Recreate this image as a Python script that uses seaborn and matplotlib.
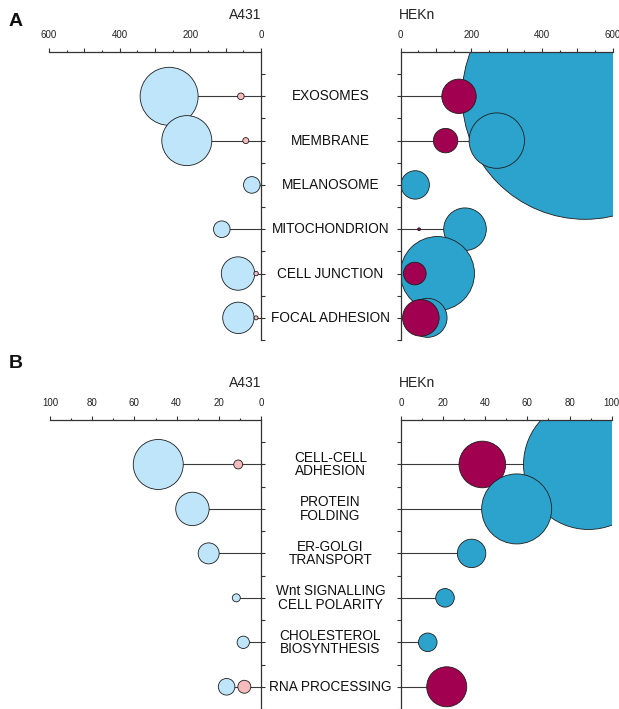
import numpy as np
import pandas as pd
import matplotlib
matplotlib.use("Agg")
import matplotlib.pyplot as plt
import matplotlib.transforms as mtransforms
from matplotlib.ticker import MultipleLocator, FuncFormatter
import seaborn as sns

nan = np.nan

# ---- Panel A: cellular components ----
terms_a = ["EXOSOMES", "MEMBRANE", "MELANOSOME", "MITOCHONDRION",
           "CELL JUNCTION", "FOCAL ADHESION"]
a431_s1_val_a = [260, 210, 26, 111, 65, 64]
a431_s1_n_a = [841, 625, 69, 69, 279, 246]
a431_s2_val_a = [57, 43, nan, nan, 14, 14]
a431_s2_n_a = [11, 9, nan, nan, 5, 4]
hekn_s1_val_a = [522, 272, 41, 182, 104, 76]
hekn_s1_n_a = [15129, 767, 202, 454, 1369, 380]
hekn_s2_val_a = [165, 127, nan, 52, 40, 57]
hekn_s2_n_a = [296, 149, nan, 2, 128, 335]

# ---- Panel B: biological processes ----
terms_b = ["CELL-CELL\nADHESION", "PROTEIN\nFOLDING", "ER-GOLGI\nTRANSPORT",
           "Wnt SIGNALLING\nCELL POLARITY", "CHOLESTEROL\nBIOSYNTHESIS",
           "RNA PROCESSING"]
a431_s1_val_b = [48.7, 32.5, 24.8, 11.7, 8.4, 16.3]
a431_s1_n_b = [625, 279, 110, 16, 38, 69]
a431_s2_val_b = [10.8, nan, nan, nan, nan, 7.9]
a431_s2_n_b = [20, nan, nan, nan, nan, 42]
hekn_s1_val_b = [89, 54.9, 33.5, 20.9, 12.7, nan]
hekn_s1_n_b = [4225, 1225, 202, 86, 86, nan]
hekn_s2_val_b = [38.6, nan, nan, nan, nan, 21.7]
hekn_s2_n_b = [543, nan, nan, nan, nan, 400]

LEFT_PAL = {"s1": "#BEE5FA", "s2": "#F4BCBC"}
RIGHT_PAL = {"s1": "#2CA3CC", "s2": "#A0004F"}

sns.set_theme(style="white")
plt.rcParams["font.family"] = ["Liberation Sans", "DejaVu Sans"]

W, H = 619, 709
fig = plt.figure(figsize=(W / 100, H / 100), dpi=100)


def px_axes(x0, y0, x1, y1):
    return fig.add_axes([x0 / W, 1 - y1 / H, (x1 - x0) / W, (y1 - y0) / H])


def long_table(terms, v1, n1, v2, n2):
    rows = []
    for i, t in enumerate(terms):
        for ser, v, n in (("s1", v1[i], n1[i]), ("s2", v2[i], n2[i])):
            if not np.isnan(v):
                rows.append(dict(term=t, pos=i, value=v, n=n, series=ser))
    return pd.DataFrame(rows)


def draw_side(ax, df, palette, xmax, major, label_step, minor, left, nmax):
    stems = df.groupby("pos")["value"].max()
    ax.hlines(stems.index, 0, stems.values, color="#3a3a3a", lw=0.8, zorder=1)
    sns.scatterplot(data=df, x="value", y="pos", hue="series", size="n",
                    sizes=(0, 2.0736 * nmax), size_norm=(0, nmax),
                    palette=palette, edgecolor="#1e1e1e", linewidth=0.6,
                    legend=False, ax=ax, zorder=2)
    ax.set_xlabel("")
    ax.set_ylabel("")
    ax.set_xlim((xmax, 0) if left else (0, xmax))
    ax.set_ylim(5.5, -1)

    ax.xaxis.tick_top()
    ax.xaxis.set_major_locator(MultipleLocator(major))
    ax.xaxis.set_minor_locator(MultipleLocator(minor))
    ax.xaxis.set_major_formatter(FuncFormatter(
        lambda v, p: f"{v:.0f}" if int(round(v)) % label_step == 0 else ""))
    ax.tick_params(axis="x", which="major", direction="out", length=3,
                   width=0.8, pad=5.5, labelsize=7, color="#333333",
                   labelcolor="#222222", top=True, bottom=False)
    ax.tick_params(axis="x", which="minor", direction="out", length=1.3,
                   width=0.8, color="#333333", top=True, bottom=False)

    ax.set_yticks(np.arange(-0.5, 5.51, 0.5))
    if left:
        ax.yaxis.tick_right()
    ax.tick_params(axis="y", direction="out", length=3, width=0.8,
                   color="#333333", labelleft=False, labelright=False,
                   left=not left, right=left)

    for side, sp in ax.spines.items():
        visible = side == "top" or (side == "right" if left else side == "left")
        sp.set_visible(visible)
        sp.set_color("#333333")
        sp.set_linewidth(0.9)
    ax.grid(False)


def draw_panel(terms, tables, boxes, xmax, major, label_step, minor, title_y, letter, letter_y):
    nmax = max(t["n"].max() for t in tables)
    ax_l = px_axes(*boxes[0])
    ax_r = px_axes(*boxes[1])
    draw_side(ax_l, tables[0], LEFT_PAL, xmax, major, label_step, minor, True, nmax)
    draw_side(ax_r, tables[1], RIGHT_PAL, xmax, major, label_step, minor, False, nmax)

    trans = mtransforms.blended_transform_factory(fig.transFigure, ax_r.transData)
    for i, t in enumerate(terms):
        ax_r.text(330.5 / W, i, t, transform=trans, ha="center", va="center",
                  fontsize=9.8, linespacing=0.95, color="#111111", clip_on=False)

    fig.text(boxes[0][2] / W, 1 - title_y / H, "A431", ha="right", va="center",
             fontsize=10, color="#222222")
    fig.text((boxes[1][0] - 2) / W, 1 - title_y / H, "HEKn", ha="left", va="center",
             fontsize=10, color="#222222")
    fig.text(9 / W, 1 - letter_y / H, letter, ha="left", va="center",
             fontsize=14, fontweight="bold", color="#111111")


tab_a = [long_table(terms_a, a431_s1_val_a, a431_s1_n_a, a431_s2_val_a, a431_s2_n_a),
         long_table(terms_a, hekn_s1_val_a, hekn_s1_n_a, hekn_s2_val_a, hekn_s2_n_a)]
tab_b = [long_table(terms_b, a431_s1_val_b, a431_s1_n_b, a431_s2_val_b, a431_s2_n_b),
         long_table(terms_b, hekn_s1_val_b, hekn_s1_n_b, hekn_s2_val_b, hekn_s2_n_b)]

draw_panel(terms_a, tab_a, [(49, 52, 261, 340), (400.7, 52, 612.7, 340)],
           600, 100, 200, 50, 15, "A", 22)
draw_panel(terms_b, tab_b, [(50, 420, 261, 709), (401, 420, 611.7, 709)],
           100, 20, 20, 10, 383, "B", 363)

fig.savefig("out.png", dpi=100)
